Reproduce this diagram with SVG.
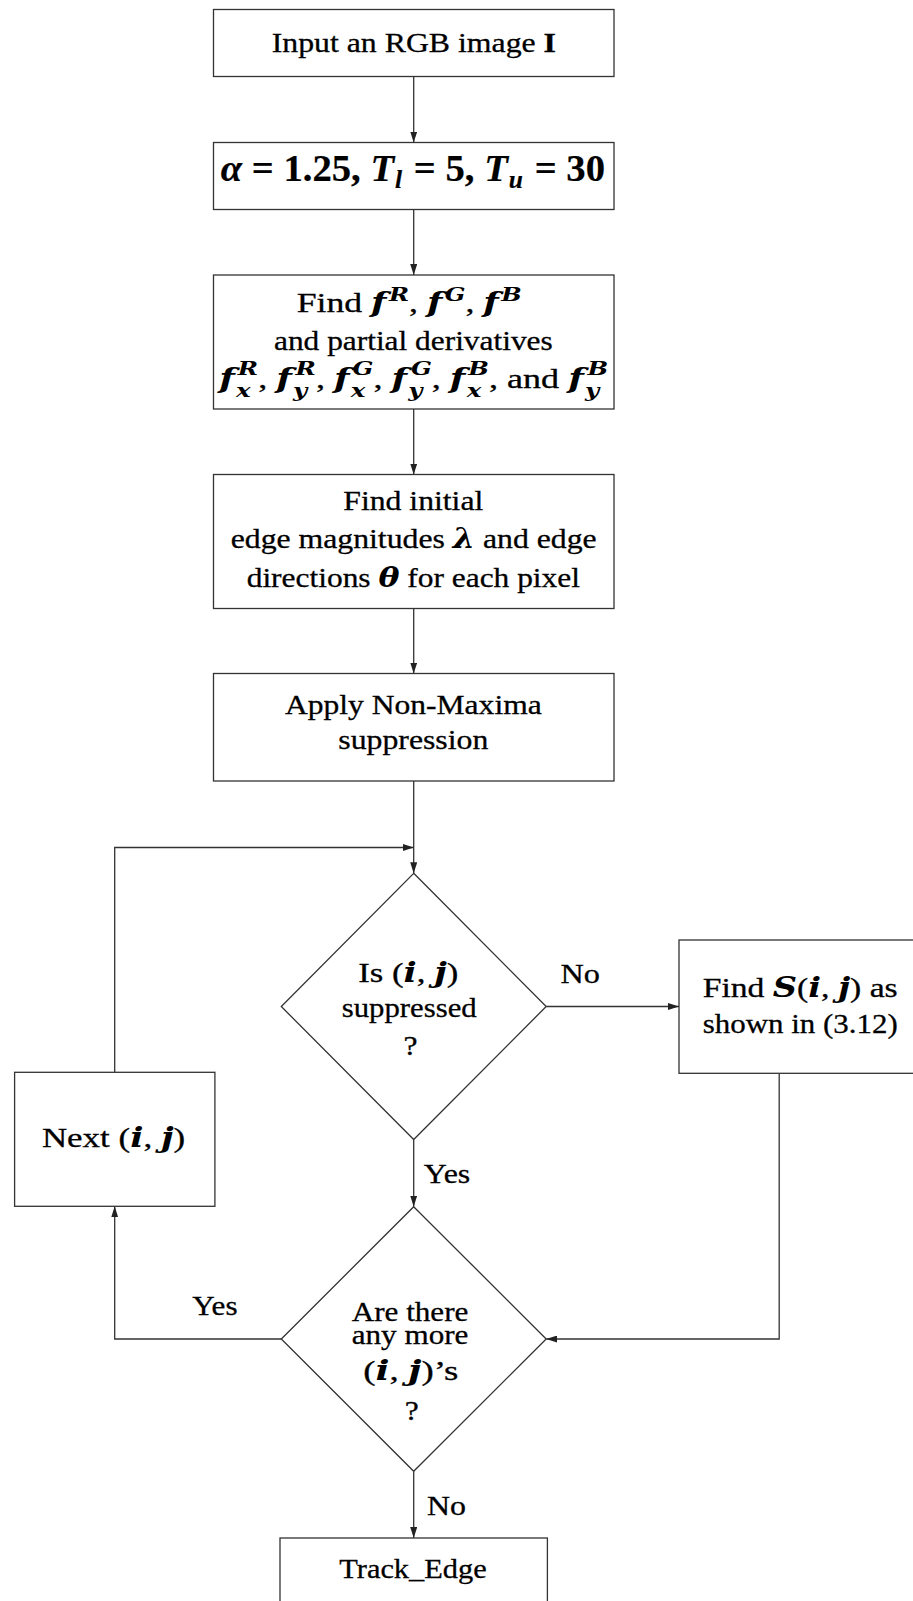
<svg xmlns="http://www.w3.org/2000/svg" width="913" height="1601" viewBox="0 0 913 1601">
<style>
.t{font-family:"Liberation Serif","Times New Roman",serif;font-size:28px;fill:#000;stroke:#000;stroke-width:0.3}
.m{font-family:"DejaVu Serif",serif;font-style:italic;font-weight:bold;stroke-width:0}
.mb{font-style:italic;font-weight:bold}
.b{font-weight:bold}
.s{font-size:19px}
.box{fill:#fff;stroke:#333;stroke-width:1.3}
.c{fill:none;stroke:#333;stroke-width:1.3}
</style>
<defs>
<marker id="ah" markerWidth="11" markerHeight="7" refX="11" refY="3.5" orient="auto" markerUnits="userSpaceOnUse"><path d="M0,0 L11,3.5 L0,7 Z" fill="#222"/></marker>
</defs>
<rect width="913" height="1601" fill="#fff"/>
<g id="connectors">
<path class="c" d="M413.7,76.5 V142.5" marker-end="url(#ah)"/>
<path class="c" d="M413.7,209.5 V275" marker-end="url(#ah)"/>
<path class="c" d="M413.7,409 V474.5" marker-end="url(#ah)"/>
<path class="c" d="M413.7,608.5 V673.5" marker-end="url(#ah)"/>
<path class="c" d="M413.7,781 V873.3" marker-end="url(#ah)"/>
<path class="c" d="M114.7,1072.3 V847.5 H413.7" marker-end="url(#ah)"/>
<path class="c" d="M546.2,1006.5 H679" marker-end="url(#ah)"/>
<path class="c" d="M413.7,1139.5 V1206.7" marker-end="url(#ah)"/>
<path class="c" d="M779.2,1073.3 V1339 H546.2" marker-end="url(#ah)"/>
<path class="c" d="M281.3,1339 H114.7 V1206.3" marker-end="url(#ah)"/>
<path class="c" d="M413.7,1471.3 V1538" marker-end="url(#ah)"/>
<text class="t" x="560.5" y="983.3" textLength="39.4" lengthAdjust="spacingAndGlyphs">No</text>
<text class="t" x="423.8" y="1182.5" textLength="46.5" lengthAdjust="spacingAndGlyphs">Yes</text>
<text class="t" x="192.2" y="1315" textLength="45.4" lengthAdjust="spacingAndGlyphs">Yes</text>
<text class="t" x="427" y="1515" textLength="39" lengthAdjust="spacingAndGlyphs">No</text>
</g>
<g id="n1">
<rect class="box" x="213.5" y="9.5" width="400.5" height="67"/>
<text class="t" x="271.7" y="51.7" textLength="284.3" lengthAdjust="spacingAndGlyphs">Input an RGB image <tspan class="b">I</tspan></text>
</g>
<g id="n2">
<rect class="box" x="213.5" y="142.5" width="400.5" height="67"/>
<text class="t b" style="font-size:38px;stroke-width:0.2" x="220.7" y="181" textLength="384.3" lengthAdjust="spacingAndGlyphs"><tspan class="mb">α</tspan> = 1.25, <tspan class="mb">T</tspan><tspan class="mb" style="font-size:25px" dx="1" dy="7">l</tspan><tspan dx="2" dy="-7"> = 5, </tspan><tspan class="mb">T</tspan><tspan class="mb" style="font-size:25px" dx="1" dy="7">u</tspan><tspan dx="2" dy="-7"> = 30</tspan></text>
</g>
<g id="n3">
<rect class="box" x="213.5" y="275" width="400.5" height="134"/>
<text class="t" x="296.7" y="311.7" textLength="225" lengthAdjust="spacingAndGlyphs">Find <tspan class="m">f</tspan><tspan class="m s" dx="2" dy="-11">R</tspan><tspan dy="11">, </tspan><tspan class="m">f</tspan><tspan class="m s" dx="2" dy="-11">G</tspan><tspan dy="11">, </tspan><tspan class="m">f</tspan><tspan class="m s" dx="2" dy="-11">B</tspan></text>
<text class="t" x="274" y="350" textLength="278.7" lengthAdjust="spacingAndGlyphs">and partial derivatives</text>
<text class="t" x="219.3" y="388.3" textLength="389" lengthAdjust="spacingAndGlyphs"><tspan class="m">f</tspan><tspan class="m s" dx="1" dy="9">x</tspan><tspan class="m s" dx="-10" dy="-22">R</tspan><tspan dy="13">, </tspan><tspan class="m">f</tspan><tspan class="m s" dx="1" dy="9">y</tspan><tspan class="m s" dx="-9" dy="-22">R</tspan><tspan dy="13">, </tspan><tspan class="m">f</tspan><tspan class="m s" dx="1" dy="9">x</tspan><tspan class="m s" dx="-10" dy="-22">G</tspan><tspan dy="13">, </tspan><tspan class="m">f</tspan><tspan class="m s" dx="1" dy="9">y</tspan><tspan class="m s" dx="-9" dy="-22">G</tspan><tspan dy="13">, </tspan><tspan class="m">f</tspan><tspan class="m s" dx="1" dy="9">x</tspan><tspan class="m s" dx="-10" dy="-22">B</tspan><tspan dy="13">, and </tspan><tspan class="m">f</tspan><tspan class="m s" dx="1" dy="9">y</tspan><tspan class="m s" dx="-9" dy="-22">B</tspan></text>
</g>
<g id="n4">
<rect class="box" x="213.5" y="474.5" width="400.5" height="134"/>
<text class="t" x="343.3" y="510" textLength="140" lengthAdjust="spacingAndGlyphs">Find initial</text>
<text class="t" x="230.7" y="547.5" textLength="366" lengthAdjust="spacingAndGlyphs">edge magnitudes <tspan class="m">λ</tspan> and edge</text>
<text class="t" x="246.7" y="586.5" textLength="333.3" lengthAdjust="spacingAndGlyphs">directions <tspan class="m">θ</tspan> for each pixel</text>
</g>
<g id="n5">
<rect class="box" x="213.5" y="673.5" width="400.5" height="107.5"/>
<text class="t" x="285" y="714" textLength="256.7" lengthAdjust="spacingAndGlyphs">Apply Non-Maxima</text>
<text class="t" x="338.3" y="748.5" textLength="150" lengthAdjust="spacingAndGlyphs">suppression</text>
</g>
<g id="d1">
<polygon class="box" points="413.7,873.3 546.2,1006.5 413.7,1139.5 281.3,1006.5"/>
<text class="t" x="358.3" y="981.7" textLength="100" lengthAdjust="spacingAndGlyphs">Is (<tspan class="m">i</tspan>, <tspan class="m">j</tspan>)</text>
<text class="t" x="341.7" y="1016.7" textLength="135" lengthAdjust="spacingAndGlyphs">suppressed</text>
<text class="t" x="403.6" y="1055" textLength="14" lengthAdjust="spacingAndGlyphs">?</text>
</g>
<g id="nS">
<rect class="box" x="679" y="940" width="260" height="133.3"/>
<text class="t" x="702.7" y="996.7" textLength="195" lengthAdjust="spacingAndGlyphs">Find <tspan class="m">S</tspan>(<tspan class="m">i</tspan>, <tspan class="m">j</tspan>) as</text>
<text class="t" x="702.7" y="1032.5" textLength="195" lengthAdjust="spacingAndGlyphs">shown in (3.12)</text>
</g>
<g id="nNext">
<rect class="box" x="14.6" y="1072.3" width="200.3" height="134"/>
<text class="t" x="41.9" y="1147" textLength="143.3" lengthAdjust="spacingAndGlyphs">Next (<tspan class="m">i</tspan>, <tspan class="m">j</tspan>)</text>
</g>
<g id="d2">
<polygon class="box" points="413.7,1206.7 546.2,1339 413.7,1471.3 281.3,1339"/>
<text class="t"><tspan x="351.7" y="1321" textLength="116.7" lengthAdjust="spacingAndGlyphs">Are there</tspan><tspan x="351.7" y="1344" textLength="116.7" lengthAdjust="spacingAndGlyphs">any more</tspan></text>
<text class="t" x="363.3" y="1380" textLength="95" lengthAdjust="spacingAndGlyphs">(<tspan class="m">i</tspan>, <tspan class="m">j</tspan>)’s</text>
<text class="t" x="404.7" y="1419.5" textLength="14" lengthAdjust="spacingAndGlyphs">?</text>
</g>
<g id="nTrack">
<rect class="box" x="280" y="1538" width="267.4" height="80"/>
<text class="t" x="339.3" y="1577.5" textLength="147.4" lengthAdjust="spacingAndGlyphs">Track_Edge</text>
</g>
</svg>
